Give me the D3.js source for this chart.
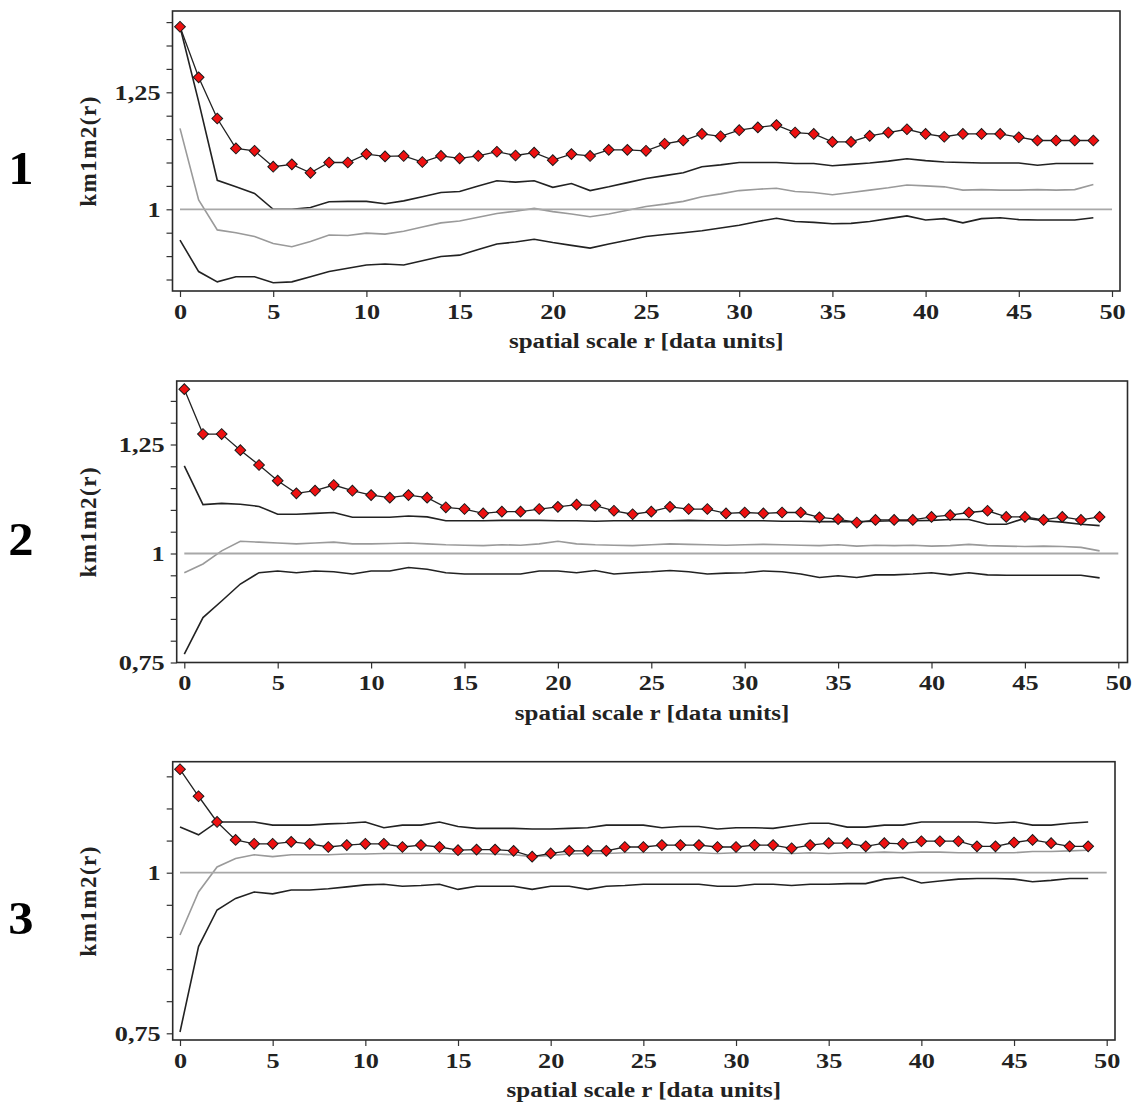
<!DOCTYPE html>
<html lang="en">
<head>
<meta charset="UTF-8">
<script src="https://d3js.org/d3.v7.min.js"></script>
<title>km1m2(r)</title>
</head>
<body style="margin:0;background:#fff;">
<script>
    // spatial scale r, integer steps
    const r = d3.range(0, 50);
    const xTicks = [0, 5, 10, 15, 20, 25, 30, 35, 40, 45, 50];
    const yLabelValues = [0.75, 1, 1.25];
    const yLabelText = ["0,75", "1", "1,25"];
    const panelNames = ["1", "2", "3"];

    // panel 1
    const p1Obs = [1.390, 1.282, 1.194, 1.130, 1.125, 1.091, 1.096, 1.078, 1.100, 1.100,
        1.118, 1.113, 1.114, 1.101, 1.114, 1.109, 1.114, 1.123, 1.115, 1.121,
        1.105, 1.118, 1.114, 1.127, 1.127, 1.125, 1.140, 1.147, 1.161, 1.156,
        1.169, 1.175, 1.180, 1.164, 1.161, 1.144, 1.144, 1.157, 1.164, 1.171,
        1.161, 1.155, 1.161, 1.161, 1.161, 1.154, 1.147, 1.147, 1.147, 1.147];
    const p1Hi = [1.390, 1.230, 1.062, 1.048, 1.034, 1.000, 1.000, 1.004, 1.016, 1.017,
        1.017, 1.012, 1.018, 1.027, 1.036, 1.038, 1.050, 1.061, 1.058, 1.061,
        1.047, 1.055, 1.040, 1.048, 1.057, 1.066, 1.072, 1.078, 1.091, 1.095,
        1.100, 1.100, 1.100, 1.098, 1.098, 1.093, 1.096, 1.099, 1.103, 1.108,
        1.104, 1.101, 1.100, 1.099, 1.099, 1.099, 1.094, 1.098, 1.098, 1.098];
    const p1Mean = [1.173, 1.020, 0.956, 0.950, 0.942, 0.927, 0.920, 0.931, 0.945, 0.944,
        0.949, 0.947, 0.953, 0.962, 0.971, 0.975, 0.983, 0.991, 0.996, 1.002,
        0.995, 0.990, 0.984, 0.990, 0.998, 1.006, 1.011, 1.017, 1.027, 1.033,
        1.040, 1.043, 1.045, 1.038, 1.036, 1.031, 1.036, 1.041, 1.046, 1.052,
        1.050, 1.048, 1.041, 1.042, 1.041, 1.041, 1.042, 1.041, 1.042, 1.053];
    const p1Lo = [0.934, 0.867, 0.845, 0.856, 0.856, 0.843, 0.845, 0.856, 0.867, 0.874,
        0.881, 0.883, 0.881, 0.890, 0.899, 0.902, 0.914, 0.926, 0.930, 0.936,
        0.929, 0.923, 0.917, 0.926, 0.934, 0.942, 0.946, 0.950, 0.954, 0.960,
        0.966, 0.974, 0.981, 0.974, 0.972, 0.969, 0.970, 0.974, 0.980, 0.986,
        0.977, 0.980, 0.971, 0.980, 0.982, 0.978, 0.977, 0.977, 0.977, 0.982];

    // panel 2
    const p2Obs = [1.377, 1.274, 1.274, 1.237, 1.203, 1.167, 1.138, 1.144, 1.157, 1.144,
        1.134, 1.128, 1.134, 1.128, 1.106, 1.102, 1.092, 1.096, 1.096, 1.102,
        1.107, 1.112, 1.110, 1.098, 1.090, 1.096, 1.107, 1.102, 1.102, 1.092,
        1.094, 1.092, 1.094, 1.094, 1.083, 1.079, 1.071, 1.077, 1.077, 1.077,
        1.084, 1.088, 1.094, 1.098, 1.084, 1.084, 1.077, 1.084, 1.077, 1.084];
    const p2Hi = [1.201, 1.112, 1.115, 1.113, 1.108, 1.090, 1.090, 1.092, 1.094, 1.083,
        1.083, 1.083, 1.086, 1.084, 1.075, 1.075, 1.075, 1.076, 1.076, 1.076,
        1.075, 1.075, 1.074, 1.075, 1.075, 1.075, 1.075, 1.076, 1.075, 1.075,
        1.075, 1.075, 1.074, 1.074, 1.073, 1.073, 1.073, 1.074, 1.075, 1.075,
        1.076, 1.078, 1.078, 1.067, 1.067, 1.081, 1.075, 1.072, 1.067, 1.064];
    const p2Mean = [0.956, 0.976, 1.006, 1.028, 1.026, 1.024, 1.022, 1.024, 1.026, 1.022,
        1.022, 1.023, 1.024, 1.022, 1.020, 1.019, 1.018, 1.020, 1.019, 1.022,
        1.028, 1.022, 1.020, 1.019, 1.018, 1.020, 1.022, 1.021, 1.020, 1.019,
        1.020, 1.021, 1.020, 1.019, 1.018, 1.020, 1.017, 1.019, 1.018, 1.019,
        1.017, 1.018, 1.021, 1.018, 1.017, 1.016, 1.017, 1.016, 1.014, 1.006];
    const p2Lo = [0.769, 0.853, 0.891, 0.930, 0.956, 0.960, 0.956, 0.960, 0.958, 0.953,
        0.960, 0.960, 0.968, 0.964, 0.956, 0.953, 0.953, 0.953, 0.953, 0.960,
        0.960, 0.956, 0.961, 0.953, 0.956, 0.958, 0.961, 0.958, 0.953, 0.955,
        0.956, 0.960, 0.958, 0.953, 0.945, 0.949, 0.945, 0.951, 0.951, 0.953,
        0.956, 0.951, 0.956, 0.951, 0.950, 0.950, 0.950, 0.950, 0.950, 0.944];

    // panel 3
    const p3Obs = [1.161, 1.119, 1.079, 1.051, 1.045, 1.045, 1.048, 1.045, 1.040, 1.043,
        1.045, 1.045, 1.040, 1.043, 1.040, 1.035, 1.036, 1.036, 1.034, 1.025,
        1.030, 1.034, 1.034, 1.034, 1.040, 1.040, 1.043, 1.043, 1.043, 1.040,
        1.040, 1.043, 1.043, 1.038, 1.043, 1.046, 1.046, 1.041, 1.046, 1.045,
        1.049, 1.049, 1.049, 1.041, 1.041, 1.047, 1.051, 1.046, 1.041, 1.041];
    const p3Hi = [1.071, 1.059, 1.079, 1.079, 1.079, 1.074, 1.074, 1.074, 1.076, 1.077,
        1.079, 1.070, 1.074, 1.074, 1.079, 1.072, 1.069, 1.069, 1.069, 1.068,
        1.068, 1.069, 1.070, 1.074, 1.074, 1.074, 1.070, 1.072, 1.072, 1.068,
        1.070, 1.070, 1.069, 1.073, 1.077, 1.077, 1.071, 1.071, 1.074, 1.074,
        1.079, 1.079, 1.079, 1.079, 1.077, 1.079, 1.074, 1.074, 1.077, 1.079];
    const p3Mean = [0.903, 0.970, 1.009, 1.022, 1.028, 1.025, 1.028, 1.028, 1.028, 1.029,
        1.029, 1.030, 1.030, 1.030, 1.030, 1.029, 1.030, 1.029, 1.028, 1.025,
        1.027, 1.029, 1.030, 1.030, 1.031, 1.031, 1.031, 1.031, 1.031, 1.030,
        1.031, 1.031, 1.031, 1.030, 1.031, 1.030, 1.031, 1.031, 1.032, 1.031,
        1.032, 1.032, 1.031, 1.031, 1.031, 1.031, 1.033, 1.033, 1.034, 1.035];
    const p3Lo = [0.752, 0.885, 0.942, 0.960, 0.970, 0.967, 0.973, 0.973, 0.975, 0.978,
        0.981, 0.982, 0.979, 0.980, 0.982, 0.974, 0.979, 0.979, 0.979, 0.974,
        0.979, 0.979, 0.974, 0.979, 0.980, 0.982, 0.982, 0.982, 0.982, 0.979,
        0.979, 0.982, 0.982, 0.980, 0.982, 0.982, 0.983, 0.983, 0.990, 0.993,
        0.984, 0.987, 0.990, 0.991, 0.991, 0.990, 0.986, 0.988, 0.991, 0.991];

    const width = 1137;
    const height = 1110;
    const font = "'Liberation Serif', 'Times New Roman', serif";
    const stretch = 1.25; // the source figure is a bit wider than tall

    // frame box + value->pixel anchors for each panel
    const panels = [
        { name: panelNames[0], obs: p1Obs, hi: p1Hi, mean: p1Mean, lo: p1Lo,
          x0: 180, x50: 1112, left: 172.5, right: 1120,
          yDom: [1, 1.25], yRng: [209.3, 92.3], top: 11, bottom: 291 },
        { name: panelNames[1], obs: p2Obs, hi: p2Hi, mean: p2Mean, lo: p2Lo,
          x0: 184.3, x50: 1118.3, left: 176.7, right: 1127.5,
          yDom: [1, 0.75], yRng: [553.5, 662.5], top: 381, bottom: 662.5 },
        { name: panelNames[2], obs: p3Obs, hi: p3Hi, mean: p3Mean, lo: p3Lo,
          x0: 180, x50: 1106.7, left: 172.7, right: 1115,
          yDom: [1, 0.75], yRng: [872.7, 1033.3], top: 761.7, bottom: 1040 }
    ];

    const svg = d3.select("body")
        .append("svg")
        .attr("width", width)
        .attr("height", height)
        .attr("viewBox", [0, 0, width, height])
        .style("font-family", font);

    function widen(sel, k) {
        sel.each(function () {
            const w = this.getComputedTextLength();
            if (w > 0) d3.select(this).attr("textLength", w * k).attr("lengthAdjust", "spacingAndGlyphs");
        });
    }

    panels.forEach(p => {
        const x = d3.scaleLinear().domain([0, 50]).range([p.x0, p.x50]);
        const y = d3.scaleLinear().domain(p.yDom).range(p.yRng);
        const lo = y.invert(p.bottom), hi = y.invert(p.top);

        const g = svg.append("g");

        // minor ticks every 0.05, labels only at 0,75 / 1 / 1,25
        const yTicks = d3.range(Math.ceil(lo / 0.05 - 1e-6), Math.floor(hi / 0.05 + 1e-6) + 1)
            .map(k => +(k * 0.05).toFixed(2));

        g.append("g")
            .attr("transform", `translate(${p.left},0)`)
            .call(d3.axisLeft(y).tickValues(yTicks).tickSize(6).tickPadding(6)
                .tickFormat(d => {
                    const i = yLabelValues.findIndex(v => Math.abs(v - d) < 1e-6);
                    return i < 0 ? "" : yLabelText[i];
                }))
            .call(a => a.select(".domain").remove())
            .call(a => a.selectAll("line").attr("stroke", "#333").attr("stroke-width", 1.2))
            .call(a => a.selectAll("text")
                .attr("font-family", font).attr("font-weight", "bold")
                .attr("font-size", 21).attr("fill", "#222")
                .call(widen, stretch));

        g.append("g")
            .attr("transform", `translate(0,${p.bottom})`)
            .call(d3.axisBottom(x).tickValues(xTicks).tickSize(6).tickPadding(7))
            .call(a => a.select(".domain").remove())
            .call(a => a.selectAll("line").attr("stroke", "#333").attr("stroke-width", 1.2))
            .call(a => a.selectAll("text")
                .attr("font-family", font).attr("font-weight", "bold")
                .attr("font-size", 21).attr("fill", "#222")
                .call(widen, stretch));

        const line = d3.line().x((d, i) => x(r[i])).y(d => y(d));

        g.append("path").datum(p.hi)
            .attr("fill", "none").attr("stroke", "#222").attr("stroke-width", 1.6)
            .attr("d", line);
        g.append("path").datum(p.lo)
            .attr("fill", "none").attr("stroke", "#222").attr("stroke-width", 1.6)
            .attr("d", line);
        g.append("path").datum(p.mean)
            .attr("fill", "none").attr("stroke", "#9a9a9a").attr("stroke-width", 1.6)
            .attr("d", line);

        // reference level 1
        g.append("line")
            .attr("x1", x(0)).attr("x2", x(50))
            .attr("y1", y(1)).attr("y2", y(1))
            .attr("stroke", "#a8a8a8").attr("stroke-width", 1.8);

        g.append("path").datum(p.obs)
            .attr("fill", "none").attr("stroke", "#222").attr("stroke-width", 1.3)
            .attr("d", line);

        g.selectAll(".pt").data(p.obs).join("path")
            .attr("class", "pt")
            .attr("transform", (d, i) => `translate(${x(r[i])},${y(d)}) rotate(45)`)
            .attr("d", d3.symbol(d3.symbolSquare, 58))
            .attr("fill", "#ee1111").attr("stroke", "#1a1a1a").attr("stroke-width", 1);

        // frame
        g.append("rect")
            .attr("x", p.left).attr("y", p.top)
            .attr("width", p.right - p.left).attr("height", p.bottom - p.top)
            .attr("fill", "none").attr("stroke", "#2a2a2a").attr("stroke-width", 1.6);

        const cy = (p.top + p.bottom) / 2;

        g.append("text")
            .attr("transform", `translate(96,${cy}) rotate(-90)`)
            .attr("text-anchor", "middle")
            .attr("font-weight", "bold").attr("font-size", 23)
            .attr("letter-spacing", 1.5).attr("fill", "#222")
            .text("km1m2(r)");

        g.append("text")
            .attr("x", (p.left + p.right) / 2).attr("y", p.bottom + 57)
            .attr("text-anchor", "middle")
            .attr("font-weight", "bold").attr("font-size", 20).attr("fill", "#222")
            .text("spatial scale r [data units]")
            .call(widen, stretch);

        g.append("text")
            .attr("x", 21).attr("y", cy + 33)
            .attr("text-anchor", "middle")
            .attr("font-weight", "bold").attr("font-size", 46).attr("fill", "#000")
            .text(p.name)
            .call(widen, 1.1);
    });
</script>
</body>
</html>
